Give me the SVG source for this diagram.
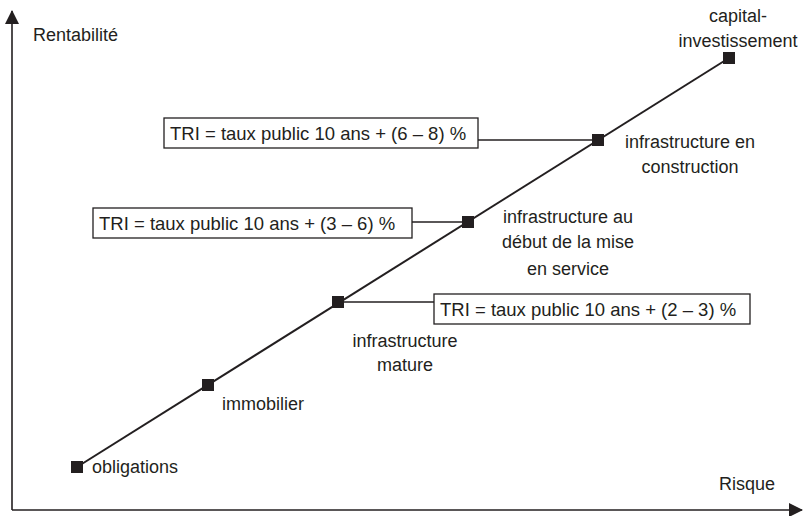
<svg xmlns="http://www.w3.org/2000/svg" width="804" height="516" viewBox="0 0 804 516">
<style>
text{font-family:"Liberation Sans",Arial,sans-serif;font-size:18px;fill:#231f20}
.t{font-size:18.5px}
.ax{stroke:#231f20;stroke-width:1.6;fill:none}
.ln{stroke:#231f20;stroke-width:2;fill:none}
.cn{stroke:#231f20;stroke-width:1.3;fill:none}
.box{fill:#fff;stroke:#231f20;stroke-width:1.3}
.mk{fill:#231f20}
.c{text-anchor:middle}
</style>
<defs>
<marker id="ah" markerWidth="14" markerHeight="14" refX="13" refY="7" orient="auto" markerUnits="userSpaceOnUse">
<path d="M0,0 L14,7 L0,14 Z" fill="#231f20"/>
</marker>
</defs>
<g id="axes">
<line class="ax" x1="12" y1="510" x2="12" y2="11" marker-end="url(#ah)"/>
<line class="ax" x1="12" y1="510" x2="802" y2="510" marker-end="url(#ah)"/>
<text x="33" y="41">Rentabilité</text>
<text x="719" y="490">Risque</text>
</g>
<g id="connectors">
<line class="ln" x1="77" y1="467" x2="729" y2="58"/>
<line class="cn" x1="478" y1="140" x2="598" y2="140"/>
<line class="cn" x1="412" y1="222" x2="468" y2="222"/>
<line class="cn" x1="338" y1="302" x2="434" y2="302"/>
</g>
<g id="obligations">
<rect class="mk" x="71" y="461" width="12" height="12"/>
<text x="92" y="473">obligations</text>
</g>
<g id="immobilier">
<rect class="mk" x="202" y="379" width="12" height="12"/>
<text x="222" y="410">immobilier</text>
</g>
<g id="infra-mature">
<rect class="mk" x="332" y="296" width="12" height="12"/>
<text class="c" x="405" y="347">infrastructure</text>
<text class="c" x="405" y="371">mature</text>
</g>
<g id="infra-debut">
<rect class="mk" x="462" y="216" width="12" height="12"/>
<text class="c" x="568" y="223">infrastructure au</text>
<text class="c" x="568" y="248">début de la mise</text>
<text class="c" x="568" y="275">en service</text>
</g>
<g id="infra-construction">
<rect class="mk" x="592" y="134" width="12" height="12"/>
<text class="c" x="690" y="148">infrastructure en</text>
<text class="c" x="690" y="173">construction</text>
</g>
<g id="capital">
<rect class="mk" x="723" y="52" width="12" height="12"/>
<text class="c" x="738" y="22">capital-</text>
<text class="c" x="738" y="47">investissement</text>
</g>
<g id="tri-6-8">
<rect class="box" x="164" y="118" width="314" height="30"/>
<text class="t" x="170" y="140">TRI = taux public 10 ans + (6 – 8) %</text>
</g>
<g id="tri-3-6">
<rect class="box" x="93" y="208" width="319" height="30"/>
<text class="t" x="99" y="230">TRI = taux public 10 ans + (3 – 6) %</text>
</g>
<g id="tri-2-3">
<rect class="box" x="434" y="294" width="316" height="30"/>
<text class="t" x="440" y="316">TRI = taux public 10 ans + (2 – 3) %</text>
</g>
</svg>
